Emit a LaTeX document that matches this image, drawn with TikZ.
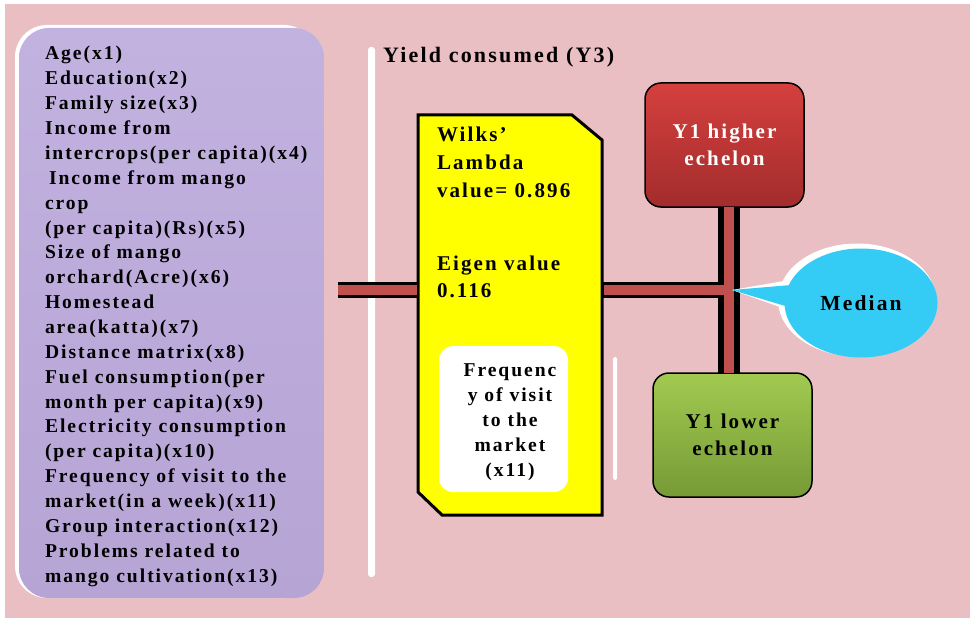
\documentclass[tikz,border=0pt]{standalone}
\usepackage{fontspec}
\setmainfont{Liberation Serif}
\newfontfamily\spacedserif{Liberation Serif}[LetterSpace=10]
\usetikzlibrary{shapes.callouts}

\definecolor{pinkbg}{RGB}{233,191,196}
\definecolor{lavtop}{RGB}{194,178,224}
\definecolor{lavbot}{RGB}{182,164,212}
\definecolor{cardyellow}{RGB}{255,255,0}
\definecolor{barred}{RGB}{192,80,77}
\definecolor{redtop}{RGB}{212,64,62}
\definecolor{redbot}{RGB}{163,44,44}
\definecolor{greentop}{RGB}{162,202,80}
\definecolor{greenbot}{RGB}{118,154,54}
\definecolor{calloutcyan}{RGB}{52,204,244}

\begin{document}
\begin{tikzpicture}[x=1pt,y=-1pt,
  every node/.style={inner sep=0pt, outer sep=0pt},
  listline/.style={anchor=base west, font=\spacedserif\bfseries\fontsize{19.6pt}{24.9pt}\selectfont},
  stattext/.style={anchor=base west, font=\spacedserif\bfseries\fontsize{21pt}{27pt}\selectfont},
  boxtext/.style={align=center, font=\spacedserif\bfseries\fontsize{21pt}{27pt}\selectfont},
  echelon/.style={boxtext, draw=black, line width=1.5pt, rounded corners=16pt,
    minimum width=159pt, minimum height=124pt},
  statcard/.style={fill=cardyellow, draw=black, line width=3pt, line join=miter},
  hbar/.style={draw=barred, line width=10pt,
    preaction={draw=black, line width=16pt}},
  vbar/.style={draw=barred, line width=10pt,
    preaction={draw=black, line width=22pt}}]

\useasboundingbox (0,0) rectangle (974,623);
\fill[white] (0,0) rectangle (974,623);
\fill[pinkbg] (5,4) rectangle (970,618);

% panel of explanatory variables
\fill[white, rounded corners=32pt] (15,25) rectangle (316,598);
\node[minimum width=305pt, minimum height=570pt, rounded corners=30pt,
  top color=lavtop, bottom color=lavbot] (vars) at (171.5,313) {};
\foreach \t [count=\i from 0] in {Age(x1), Education(x2), Family size(x3),
    Income from, intercrops(per capita)(x4), \hspace{4pt}Income from mango,
    crop, (per capita)(Rs)(x5), Size of mango, orchard(Acre)(x6), Homestead,
    area(katta)(x7), Distance matrix(x8), Fuel consumption(per,
    month per capita)(x9), Electricity consumption, (per capita)(x10),
    Frequency of visit to the, market(in a week)(x11), Group interaction(x12),
    Problems related to, mango cultivation(x13)}
  \node[listline] (v\i) at (45,60+24.86*\i) {\t};

% heading and separators
\node[stattext, font=\spacedserif\bfseries\fontsize{22pt}{27pt}\selectfont]
  (head) at (383,63) {Yield consumed (Y3)};
\fill[white, rounded corners=3pt] (368,47) rectangle (375,577);
\fill[white, rounded corners=1.5pt] (613,357) rectangle (617,480);

% statistics card with two cut corners
\node[minimum width=184pt, minimum height=400pt] (stat) at (510,315) {};
\draw[statcard] (stat.north west) -- ([xshift=-30pt]stat.north east)
  -- ([yshift=-25pt]stat.north east) -- (stat.south east)
  -- ([xshift=24pt]stat.south west) -- ([yshift=23pt]stat.south west) -- cycle;
\node[stattext] (w1) at (437,142) {Wilks’};
\node[stattext] (w2) at (437,169) {Lambda};
\node[stattext] (w3) at (437,197) {value= 0.896};
\node[stattext] (e1) at (437,270) {Eigen value};
\node[stattext] (e2) at (437,297) {0.116};
\node[fill=white, rounded corners=14pt, minimum width=129pt, minimum height=146pt]
  (fbox) at (503.5,419) {};
\node[align=center, font=\spacedserif\bfseries\fontsize{19.6pt}{25pt}\selectfont]
  (ftext) at (510,422) {Frequenc\\y of visit\\to the\\market\\(x11)};

% echelon boxes
\node[echelon, top color=redtop, bottom color=redbot, text=white] (hi)
  at (724.5,145) {Y1 higher\\echelon};
\node[echelon, top color=greentop, bottom color=greenbot, text=black] (lo)
  at (732.5,435) {Y1 lower\\echelon};

% connecting bars
\coordinate (lend) at (338,290);
\coordinate (junc) at (729,290);
\coordinate (tip) at (732,290);
\draw[hbar, preaction={shorten <=-3pt}, shorten >=1.5pt] (lend) -- (stat.west |- lend);
\draw[vbar] (hi.south -| junc) -- (lo.north -| junc);
\draw[draw=black, line width=16pt, shorten >=10pt] (stat.east |- junc) -- ([xshift=4pt]junc);
\draw[draw=barred, line width=10pt, shorten <=1.5pt] (stat.east |- junc) -- ([xshift=4pt]junc);

% median callout
\node[ellipse callout, fill=white, minimum width=158pt, minimum height=113pt,
  callout absolute pointer={(tip)}, callout pointer arc=26] (medrim) at (857,300) {};
\node[ellipse callout, fill=calloutcyan, minimum width=153pt, minimum height=109pt,
  callout absolute pointer={(tip)}, callout pointer arc=22,
  font=\spacedserif\bfseries\fontsize{21.5pt}{27pt}\selectfont] (med) at (861,303) {Median};
\end{tikzpicture}
\end{document}
